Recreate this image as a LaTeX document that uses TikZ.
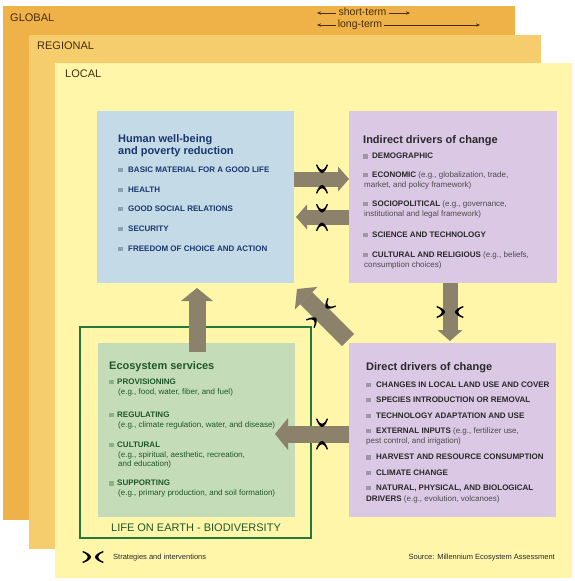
\documentclass[tikz,border=0pt]{standalone}
\usepackage{fontspec}
\setmainfont{Liberation Sans}
\usetikzlibrary{arrows.meta,calc}
\definecolor{cGlobal}{RGB}{239,178,72}
\definecolor{cRegional}{RGB}{246,205,108}
\definecolor{cLocal}{RGB}{255,246,170}
\definecolor{cBlue}{RGB}{196,218,230}
\definecolor{cPurple}{RGB}{219,200,229}
\definecolor{cGreen}{RGB}{197,220,184}
\definecolor{cBorder}{RGB}{38,120,58}
\definecolor{cArrow}{RGB}{140,130,108}
\definecolor{cNavy}{RGB}{25,55,110}
\definecolor{cDkGreen}{RGB}{30,88,42}
\definecolor{cText}{RGB}{40,40,40}
\definecolor{cSoft}{RGB}{75,75,75}
\definecolor{cBrown}{RGB}{70,45,15}
\definecolor{cSqBlue}{RGB}{140,160,178}
\definecolor{cSqGray}{RGB}{160,150,168}
\definecolor{cSqGreen}{RGB}{140,178,130}
\newcommand\sqm[1]{\textcolor{#1}{\rule{4.5pt}{4.5pt}}\hspace{4.5pt}}
\begin{document}
\begin{tikzpicture}[x=1pt,y=-1pt,
  panel/.style={anchor=north west, inner sep=0pt, outer sep=0pt, draw=none},
  plab/.style={anchor=base west, inner sep=0pt, text=cBrown, font=\fontsize{11}{13}\selectfont},
  term/.style={anchor=mid, inner xsep=2pt, inner ysep=0pt, text=cBrown, font=\fontsize{10.5}{12}\selectfont},
  termarrow/.style={draw=cBrown, line width=0.6pt, -{Stealth[length=4pt,width=3.2pt]}},
  ttl/.style={anchor=base west, inner sep=0pt, font=\fontsize{11}{13}\selectfont\bfseries},
  itm/.style={anchor=base west, inner sep=0pt, font=\fontsize{8}{10}\selectfont},
  lgd/.style={inner sep=0pt, text=cText, font=\fontsize{7.5}{9}\selectfont},
  fatA/.style={draw=cArrow, line width=15pt, -{Triangle[length=11pt, width=25pt, line width=0pt]}},
  fatB/.style={draw=cArrow, line width=17pt, -{Triangle[length=13pt, width=32pt, line width=0pt]}},
  strat/.pic={
    \fill[black] ({-#1-8},-6) .. controls ({-#1-3},-4.2) and ({-#1},-2) .. ({-#1},0)
       .. controls ({-#1},2) and ({-#1-3},4.2) .. ({-#1-8},6)
       -- ({-#1-8.6},4.9)
       .. controls ({-#1-4.5},3.2) and ({-#1-3.2},1.5) .. ({-#1-3.2},0)
       .. controls ({-#1-3.2},-1.5) and ({-#1-4.5},-3.2) .. ({-#1-8.6},-4.9) -- cycle;
    \fill[black] ({#1+8},-6) .. controls ({#1+3},-4.2) and ({#1},-2) .. ({#1},0)
       .. controls ({#1},2) and ({#1+3},4.2) .. ({#1+8},6)
       -- ({#1+8.6},4.9)
       .. controls ({#1+4.5},3.2) and ({#1+3.2},1.5) .. ({#1+3.2},0)
       .. controls ({#1+3.2},-1.5) and ({#1+4.5},-3.2) .. ({#1+8.6},-4.9) -- cycle;
  }]
\useasboundingbox (0,0) rectangle (575,581);
\fill[white] (0,0) rectangle (575,581);

% scale panels
\node[panel, fill=cGlobal, minimum width=512pt, minimum height=514pt] (glob) at (3,6) {};
\node[panel, fill=cRegional, minimum width=512pt, minimum height=514pt] (reg) at (29,35) {};
\node[panel, fill=cLocal, minimum width=517pt, minimum height=515pt] (loc) at (55,63) {};
\node[plab] (globt) at (10,21) {GLOBAL};
\node[plab] (regt) at (37,49.5) {REGIONAL};
\node[plab] (loct) at (65,77.5) {LOCAL};

% time scale
\node[term] (st) at (362.5,13) {short-term};
\node[term] (lt) at (360,25) {long-term};
\coordinate (stL) at (317,13);
\coordinate (stR) at (410,13);
\coordinate (ltL) at (317,25);
\coordinate (ltR) at (480,25);
\draw[termarrow] (st.mid west) -- (stL);
\draw[termarrow] (st.mid east) -- (stR);
\draw[termarrow] (lt.mid west) -- (ltL);
\draw[termarrow] (lt.mid east) -- (ltR);

% life on earth frame
\node[panel, draw=cBorder, line width=1.5pt, minimum width=231pt, minimum height=211pt] (life) at (80,327) {};
\node[inner sep=0pt, anchor=base, text=cDkGreen, font=\fontsize{11}{13}\selectfont] (lifet) at (196,531) {LIFE ON EARTH - BIODIVERSITY};

% boxes
\node[panel, fill=cBlue, minimum width=197pt, minimum height=172pt] (hw) at (97,111) {};
\node[panel, fill=cPurple, minimum width=208pt, minimum height=172pt] (ind) at (349,111) {};
\node[panel, fill=cGreen, minimum width=197pt, minimum height=174pt] (eco) at (98,343) {};
\node[panel, fill=cPurple, minimum width=207pt, minimum height=174pt] (dir) at (349,343) {};

% human well-being
\node[ttl, text=cNavy] (hwt1) at (118,142.3) {Human well-being};
\node[ttl, text=cNavy] (hwt2) at (118,154) {and poverty reduction};
\node[itm, text=cNavy] (hw1) at (118,172.3) {\sqm{cSqBlue}\hspace{1pt}\textbf{BASIC MATERIAL FOR A GOOD LIFE}};
\node[itm, text=cNavy] (hw2) at (118,192) {\sqm{cSqBlue}\hspace{1pt}\textbf{HEALTH}};
\node[itm, text=cNavy] (hw3) at (118,211.3) {\sqm{cSqBlue}\hspace{1pt}\textbf{GOOD SOCIAL RELATIONS}};
\node[itm, text=cNavy] (hw4) at (118,231.3) {\sqm{cSqBlue}\hspace{1pt}\textbf{SECURITY}};
\node[itm, text=cNavy] (hw5) at (118,251.3) {\sqm{cSqBlue}\hspace{1pt}\textbf{FREEDOM OF CHOICE AND ACTION}};

% indirect drivers
\node[ttl, text=cText] (indt) at (363,143) {Indirect drivers of change};
\node[itm, text=cSoft] (in1) at (363,158.7) {\sqm{cSqGray}\textcolor{cText}{\textbf{DEMOGRAPHIC}}};
\node[itm, text=cSoft] (in2) at (363,177.3) {\sqm{cSqGray}\textcolor{cText}{\textbf{ECONOMIC}} (e.g., globalization, trade,};
\node[itm, text=cSoft] (in2b) at (364,187.3) {market, and policy framework)};
\node[itm, text=cSoft] (in3) at (363,206.3) {\sqm{cSqGray}\textcolor{cText}{\textbf{SOCIOPOLITICAL}} (e.g., governance,};
\node[itm, text=cSoft] (in3b) at (364,216.3) {institutional and legal framework)};
\node[itm, text=cSoft] (in4) at (363,237.3) {\sqm{cSqGray}\textcolor{cText}{\textbf{SCIENCE AND TECHNOLOGY}}};
\node[itm, text=cSoft] (in5) at (363,257) {\sqm{cSqGray}\textcolor{cText}{\textbf{CULTURAL AND RELIGIOUS}} (e.g., beliefs,};
\node[itm, text=cSoft] (in5b) at (364,267) {consumption choices)};

% direct drivers
\node[ttl, text=cText] (dirt) at (366,370) {Direct drivers of change};
\node[itm, text=cSoft] (dr1) at (366,387) {\sqm{cSqGray}\hspace{1pt}\textcolor{cText}{\textbf{CHANGES IN LOCAL LAND USE AND COVER}}};
\node[itm, text=cSoft] (dr2) at (366,402.3) {\sqm{cSqGray}\hspace{1pt}\textcolor{cText}{\textbf{SPECIES INTRODUCTION OR REMOVAL}}};
\node[itm, text=cSoft] (dr3) at (366,418) {\sqm{cSqGray}\hspace{1pt}\textcolor{cText}{\textbf{TECHNOLOGY ADAPTATION AND USE}}};
\node[itm, text=cSoft] (dr4) at (366,433) {\sqm{cSqGray}\hspace{1pt}\textcolor{cText}{\textbf{EXTERNAL INPUTS}} (e.g., fertilizer use,};
\node[itm, text=cSoft] (dr4b) at (366,443.7) {pest control, and irrigation)};
\node[itm, text=cSoft] (dr5) at (366,459.7) {\sqm{cSqGray}\hspace{1pt}\textcolor{cText}{\textbf{HARVEST AND RESOURCE CONSUMPTION}}};
\node[itm, text=cSoft] (dr6) at (366,475.3) {\sqm{cSqGray}\hspace{1pt}\textcolor{cText}{\textbf{CLIMATE CHANGE}}};
\node[itm, text=cSoft] (dr7) at (366,490.3) {\sqm{cSqGray}\hspace{1pt}\textcolor{cText}{\textbf{NATURAL, PHYSICAL, AND BIOLOGICAL}}};
\node[itm, text=cSoft] (dr7b) at (366,501.3) {\textcolor{cText}{\textbf{DRIVERS}} (e.g., evolution, volcanoes)};

% ecosystem services
\node[ttl, text=cDkGreen] (ecot) at (109,369.7) {Ecosystem services};
\node[itm, text=cDkGreen] (ec1) at (109,384) {\sqm{cSqGreen}\hspace{-1pt}\textbf{PROVISIONING}};
\node[itm, text=cDkGreen] (ec1b) at (118,394) {(e.g., food, water, fiber, and fuel)};
\node[itm, text=cDkGreen] (ec2) at (109,417.3) {\sqm{cSqGreen}\hspace{-1pt}\textbf{REGULATING}};
\node[itm, text=cDkGreen] (ec2b) at (118,427.3) {(e.g., climate regulation, water, and disease)};
\node[itm, text=cDkGreen] (ec3) at (109,447) {\sqm{cSqGreen}\hspace{-1pt}\textbf{CULTURAL}};
\node[itm, text=cDkGreen] (ec3b) at (118,457) {(e.g., spiritual, aesthetic, recreation,};
\node[itm, text=cDkGreen] (ec3c) at (118,466.3) {and education)};
\node[itm, text=cDkGreen] (ec4) at (109,485.7) {\sqm{cSqGreen}\hspace{-1pt}\textbf{SUPPORTING}};
\node[itm, text=cDkGreen] (ec4b) at (118,495.7) {(e.g., primary production, and soil formation)};

% helper coordinates for the connectors
\coordinate (y179) at (0,179);
\coordinate (y217) at (0,217);
\coordinate (y434) at (0,434);
\coordinate (x450) at (450,0);
\coordinate (a2tip) at (296,217);
\coordinate (a3tip) at (450,341);
\coordinate (a4s) at (348,340);
\coordinate (a4e) at (297,289);
\coordinate (a5s) at (197,352);
\coordinate (a5e) at (197,288);
\coordinate (a6e) at (275,434);

% connectors
\draw[fatA] (hw.east |- y179) -- (ind.west |- y179);
\draw[fatA] (ind.west |- y217) -- (a2tip);
\draw[fatA] (x450 |- ind.south) -- (a3tip);
\draw[fatB] (a4s) -- (a4e);
\draw[fatB] (a5s) -- (a5e);
\draw[fatB] (dir.west |- y434) -- (a6e);

% strategies and interventions marks
\pic[rotate=90] at (322,179) {strat=6};
\pic[rotate=90] at (322,217.5) {strat=5};
\pic at (450,312) {strat=5};
\pic[rotate=45] at (321,313) {strat=7};
\pic[rotate=90] at (322,434) {strat=7};

% legend
\pic at (93,557) {strat=2};
\node[lgd, anchor=mid west] (lg1) at (113,557) {Strategies and interventions};
\node[lgd, anchor=mid east] (lg2) at (555,557) {Source: Millennium Ecosystem Assessment};
\end{tikzpicture}
\end{document}
